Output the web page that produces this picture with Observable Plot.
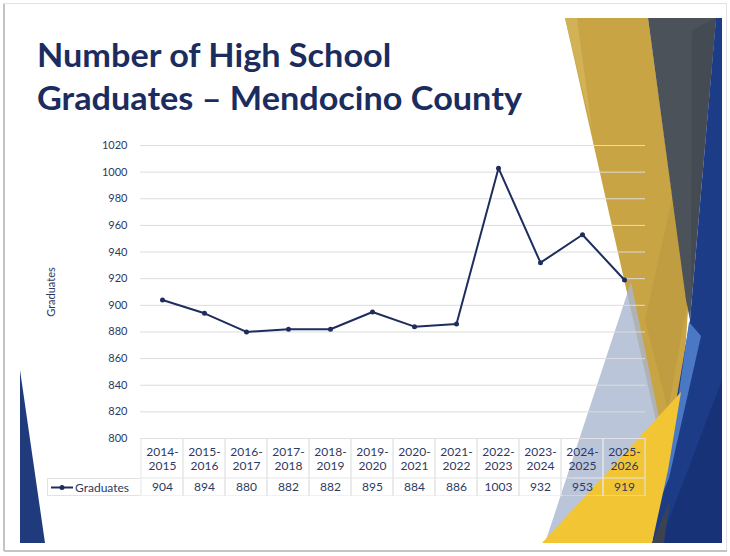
<!DOCTYPE html>
<html>
<head>
<meta charset="utf-8">
<script src="https://cdn.jsdelivr.net/npm/d3@7"></script>
<script src="https://cdn.jsdelivr.net/npm/@observablehq/plot@0.6"></script>
<style>
  html, body { margin: 0; padding: 0; background: #ffffff; }
  #slide { position: relative; width: 730px; height: 556px; overflow: hidden; background: #fff; font-family: Lato, "Open Sans", sans-serif; }
  #deco { position: absolute; left: 0; top: 0; }
  .layer { position: absolute; left: 0; }
  #title { position: absolute; left: 37px; top: 33px; color: #1b2c5f; font-family: Lato, sans-serif; font-weight: 700; font-size: 33px; line-height: 43px; white-space: nowrap; }
  #title span { display: inline-block; transform-origin: 0 50%; }
  #legend { position: absolute; left: 47px; top: 478px; width: 93px; height: 18px; box-sizing: border-box; border: 1px solid #e3e3e3; border-right: none; font-size: 12px; color: #2b3a63; }
</style>
</head>
<body>
<div id="slide">
  <svg id="deco" width="730" height="556" viewBox="0 0 730 556">
    <rect x="3.5" y="3.5" width="723" height="547" fill="none" stroke="#e2e2e2" stroke-width="1"/>
    <line x1="4" y1="4" x2="4" y2="551" stroke="#c4c4c4" stroke-width="2"/>
    <line x1="4" y1="551" x2="727" y2="551" stroke="#c4c4c4" stroke-width="2"/>
    <!-- gold band -->
    <polygon points="565,18 648,18 688,310 680,430 658,430" fill="#c8a444"/>
    <polygon points="565,18 577,18 592,130" fill="#d2b257"/>
    <polygon points="687,305 674,190 645,320 668,410" fill="#c09d40"/>
    <!-- gray band -->
    <polygon points="648,18 716,18 690,320 686,300" fill="#4b5259"/>
    <polygon points="692,30 716,18 691,300" fill="#454b52"/>
    <!-- right blue / navy -->
    <polygon points="716,18 722,18 722,543 652,543 690,320" fill="#1d3c88"/>
    <polygon points="722,380 722,543 660,543" fill="#173277"/>
    <!-- light steel blue wedge -->
    <polygon points="631,282 545,543 662,432" fill="#aab7cf" fill-opacity="0.8"/>
    <!-- medium blue wedge -->
    <polygon points="689,322 701,336 669,478 651,522 675,420" fill="#4a78c4"/>
    <!-- bright yellow -->
    <polygon points="542,543 652,543 668,470 681,392" fill="#f2c535"/>
    <polygon points="652,543 664,543 670,500" fill="#3b4252"/>
    <!-- left navy triangle -->
    <polygon points="20,370 20,543 45,543" fill="#1f3b7c"/>
  </svg>
  <div id="title"><span id="t1">Number of High School</span><br><span id="t2">Graduates – Mendocino County</span></div>
  <div id="chart" class="layer" style="top:130px"></div>
  <div id="thead" class="layer" style="top:438px"></div>
  <div id="tvals" class="layer" style="top:478px"></div>
  <div id="legend">
    <svg width="92" height="16" style="position:absolute;left:0;top:0">
      <line x1="3" y1="8.5" x2="25" y2="8.5" stroke="#1f2d5c" stroke-width="2"/>
      <circle cx="14" cy="8.5" r="2.5" fill="#1f2d5c"/>
      <text x="27" y="12.5" font-family="Lato, sans-serif" font-size="12" fill="#2b3a63">Graduates</text>
    </svg>
  </div>
</div>
<script>
const categories = ["2014-2015","2015-2016","2016-2017","2017-2018","2018-2019","2019-2020","2020-2021","2021-2022","2022-2023","2023-2024","2024-2025","2025-2026"];
const graduates = [904, 894, 880, 882, 882, 895, 884, 886, 1003, 932, 953, 919];
const yTicks = [800, 820, 840, 860, 880, 900, 920, 940, 960, 980, 1000, 1020];
const seriesName = "Graduates";

const data = categories.map((c, i) => ({year: c, value: graduates[i]}));
const lineColor = "#1f2d5c";
const textColor = "#2b3a63";
const font = "Lato, sans-serif";

const xScale = {type: "band", domain: categories, padding: 0, axis: null};

const chart = Plot.plot({
  width: 730, height: 308,
  marginTop: 15, marginBottom: 0, marginLeft: 140, marginRight: 85,
  style: {background: "transparent", fontFamily: font, overflow: "visible"},
  x: xScale,
  y: {domain: [800, 1020]},
  marks: [
    Plot.gridY(yTicks, {stroke: "#dcdcdc", strokeOpacity: 1, strokeWidth: 1}),
    Plot.axisY(yTicks, {tickSize: 0, tickPadding: 13, fontSize: 11, color: textColor, tickFormat: d => String(d),
      label: seriesName, labelAnchor: "center", labelArrow: "none", labelOffset: 93}),
    Plot.line(data, {x: "year", y: "value", stroke: lineColor, strokeWidth: 2}),
    Plot.dot(data, {x: "year", y: "value", r: 2.5, fill: lineColor})
  ]
});
document.getElementById("chart").appendChild(chart);

const thead = Plot.plot({
  width: 730, height: 40,
  marginTop: 0, marginBottom: 0, marginLeft: 140, marginRight: 85,
  style: {background: "transparent", fontFamily: font},
  x: xScale,
  marks: [
    Plot.cell(categories, {x: d => d, fill: "none", stroke: "#e6e6e6"}),
    Plot.text(categories, {x: d => d, text: d => d.replace("-", "-\n"), fontSize: 12, fill: textColor, lineHeight: 1.15, frameAnchor: "middle"})
  ]
});
document.getElementById("thead").appendChild(thead);

const tvals = Plot.plot({
  width: 730, height: 18,
  marginTop: 0, marginBottom: 0, marginLeft: 140, marginRight: 85,
  style: {background: "transparent", fontFamily: font},
  x: xScale,
  marks: [
    Plot.cell(data, {x: "year", fill: "none", stroke: "#e3e3e3"}),
    Plot.text(data, {x: "year", text: d => String(d.value), fontSize: 12, fill: textColor, frameAnchor: "middle"})
  ]
});
document.getElementById("tvals").appendChild(tvals);

// one common horizontal scale for both title lines, fitted to the second line's width
function fitAll() {
  const t1 = document.getElementById("t1"), t2 = document.getElementById("t2");
  t1.style.transform = t2.style.transform = "none";
  const w2 = t2.getBoundingClientRect().width;
  if (w2 > 0) {
    const s = Math.min(1.1, Math.max(0.85, 485 / w2));
    t1.style.transform = t2.style.transform = `scaleX(${s})`;
  }
}
fitAll();
if (document.fonts && document.fonts.ready) document.fonts.ready.then(fitAll);
</script>
</body>
</html>
